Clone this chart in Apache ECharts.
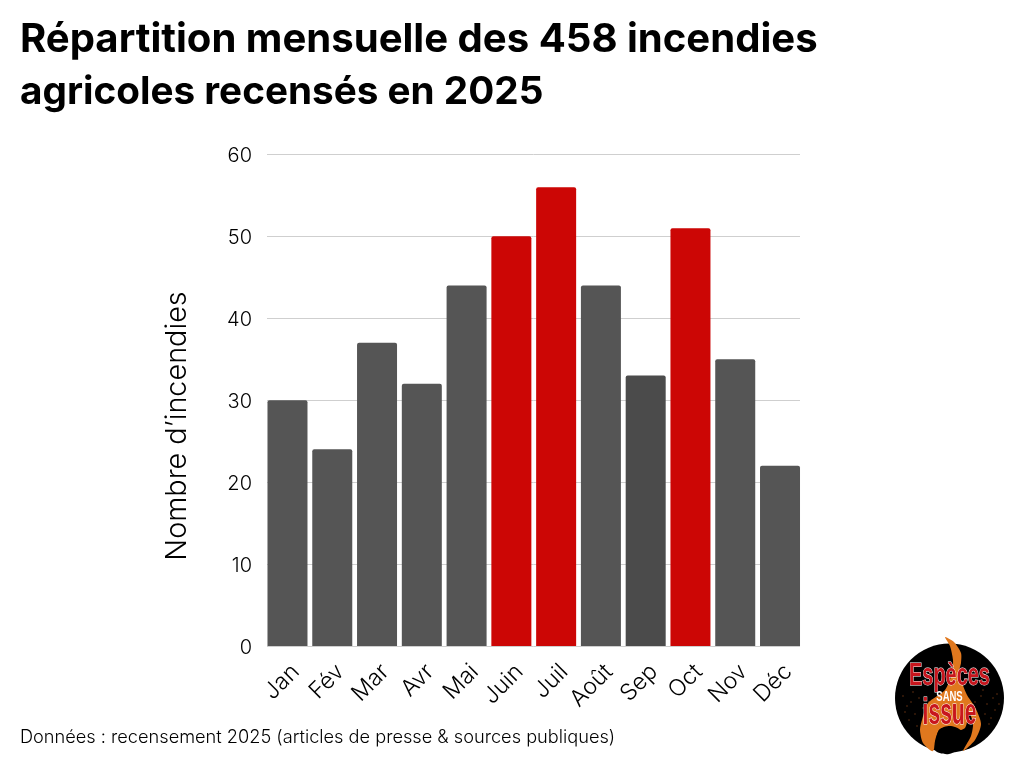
<!DOCTYPE html>
<html><head><meta charset="utf-8">
<style>html,body{margin:0;padding:0;background:#fff}#c{width:1024px;height:768px}</style>
<script src="https://cdn.jsdelivr.net/npm/echarts@6/dist/echarts.min.js"></script>
</head><body><div id="c"></div>
<script>
const months = ['Jan','Fév','Mar','Avr','Mai','Juin','Juil','Août','Sep','Oct','Nov','Déc'];
const fires = [30,24,37,32,44,50,56,44,33,51,35,22];
const barColors = ['#555555','#555555','#555555','#555555','#555555','#cc0605','#cc0605','#555555','#4b4b4b','#cc0605','#555555','#555555'];
const titleLine1 = 'Répartition mensuelle des 458 incendies';
const titleLine2 = 'agricoles recensés en 2025';
const yName = 'Nombre d’incendies';
const sourceText = 'Données : recensement 2025 (articles de presse & sources publiques)';
const FONT = 'Inter, "Open Sans", sans-serif';
const LOGOFONT = '"Liberation Sans",sans-serif';
const sparks = [[8,60],[12,70],[16,66],[20,78],[14,84],[24,62],[28,72],[22,90],[30,84],[10,76],[18,56],[34,66],
                [86,60],[92,68],[98,62],[90,78],[100,74],[84,86],[94,88],[104,68],[88,54],[80,66],[96,82],[102,58]];
const chart = echarts.init(document.getElementById('c'), null, {renderer:'canvas'});
chart.setOption({
  animation:false,
  backgroundColor:'#fff',
  title:{text:'{a|'+titleLine1+'}\n{b|'+titleLine2+'}',left:15,top:9,textStyle:{rich:{
    a:{fontFamily:FONT,fontWeight:700,fontSize:40.1,lineHeight:52,color:'#000'},
    b:{fontFamily:FONT,fontWeight:700,fontSize:38.7,lineHeight:52,color:'#000'}}}},
  grid:[
    {left:267,top:154,width:533,height:492},
    {left:265.1,top:154.4,width:537.3,height:491.6}
  ],
  xAxis:[
    {gridIndex:0,type:'category',data:months,show:false},
    {gridIndex:1,type:'category',data:months,axisTick:{show:false},
     axisLine:{show:false},
     axisLabel:{rotate:45,interval:0,margin:14,verticalAlign:'top',color:'#000',fontFamily:FONT,fontWeight:300,fontSize:23}}
  ],
  yAxis:[
    {gridIndex:0,type:'value',min:0,max:60,interval:10,axisLine:{show:false},axisTick:{show:false},
     splitLine:{lineStyle:{color:'#cfcfcf',width:1}},
     axisLabel:{margin:15,formatter:'{v|{value}}',rich:{v:{padding:[4,0,0,0],color:'#000',fontFamily:FONT,fontWeight:300,fontSize:20}}},
     name:yName,nameLocation:'middle',nameGap:75,nameRotate:90,
     nameTextStyle:{color:'#000',fontFamily:FONT,fontWeight:300,fontSize:28.8,padding:[0,52,0,0]}},
    {gridIndex:1,type:'value',min:0,max:60,interval:10,show:false}
  ],
  series:[{
    type:'bar',xAxisIndex:1,yAxisIndex:1,barWidth:40,
    data:fires.map((v,i)=>({value:v,itemStyle:{color:barColors[i],borderRadius:[2,2,0,0]}}))
  }],
  graphic:[
    {type:'text',x:20,y:729,style:{text:sourceText,fill:'#000',font:'300 18.2px '+FONT}},
    {type:'group',x:895,y:636,children:[
      {type:'circle',shape:{cx:54.5,cy:62,r:54.5},style:{fill:'#000'}},
      ...sparks.map(p=>({type:'circle',shape:{cx:p[0],cy:p[1],r:0.7},style:{fill:'#7a3a14'}})),
      {type:'polygon',shape:{smooth:0.25,points:[[50,1],[59,6],[66,17],[66,27],[64,37],[72,59],[80,71],[86,88],[80,104],[68,115],[76,100],[78,88],[74,76],[70,92],[56,96],[44,94],[38,115],[28,107],[25,94],[27,84],[33,67],[50,54],[57,37],[58,24],[55,10]]},style:{fill:'#e0781e'}},
      {type:'polygon',shape:{smooth:0.3,points:[[44,94],[56,90],[68,96],[70,108],[54,118],[40,114]]},style:{fill:'#000'}},
      {type:'text',x:54.5,y:41,scaleX:0.83,scaleY:1.28,style:{text:'Espèces',fill:'#c8161e',stroke:'#fff',lineWidth:0.8,font:'bold 24px '+LOGOFONT,align:'center',verticalAlign:'middle'}},
      {type:'text',x:54.5,y:61,scaleX:0.95,scaleY:1.4,style:{text:'SANS',fill:'#fff',font:'bold 10px '+LOGOFONT,align:'center',verticalAlign:'middle'}},
      {type:'text',x:54.5,y:78,scaleX:0.78,scaleY:1.4,style:{text:'issue',fill:'#c8161e',stroke:'#fff',lineWidth:0.8,font:'bold 27px '+LOGOFONT,align:'center',verticalAlign:'middle'}}
    ]}
  ]
});
</script></body></html>
